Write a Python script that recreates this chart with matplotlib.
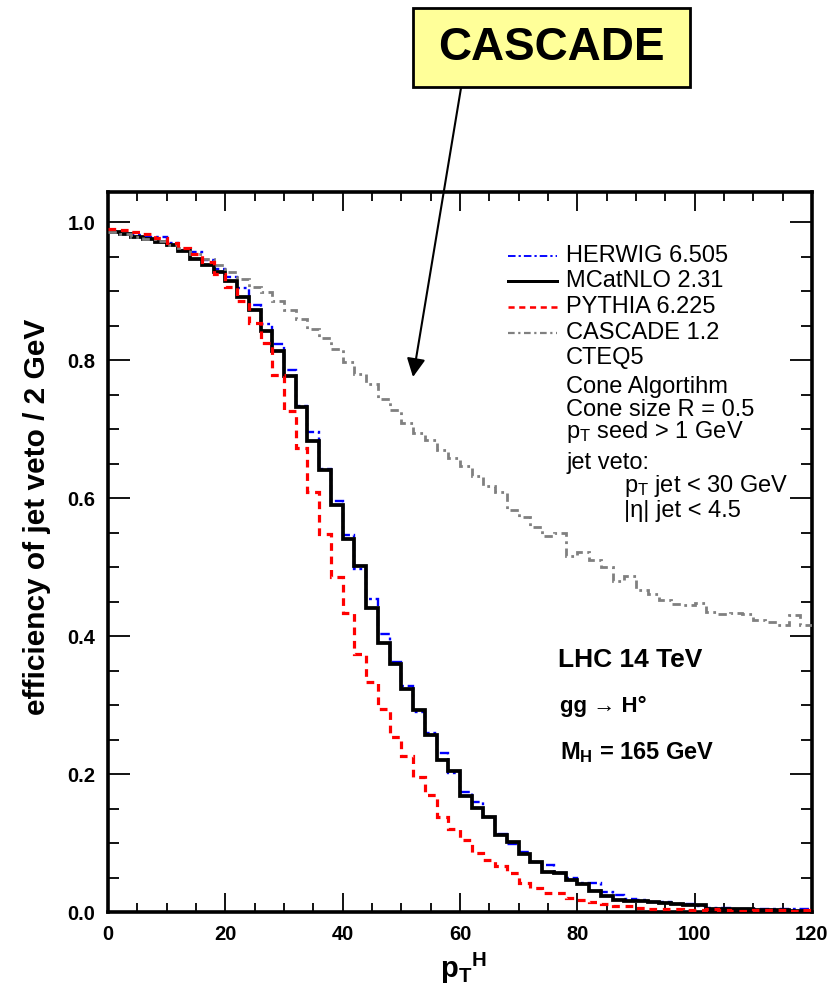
import numpy as np
import matplotlib
matplotlib.use("Agg")
import matplotlib.pyplot as plt
from matplotlib.ticker import MultipleLocator, FormatStrFormatter
from matplotlib.patches import Rectangle
from matplotlib.lines import Line2D

plt.rcParams['font.family'] = ['Liberation Sans', 'DejaVu Sans']
plt.rcParams['mathtext.fontset'] = 'custom'
plt.rcParams['mathtext.rm'] = 'Liberation Sans'
plt.rcParams['mathtext.bf'] = 'Liberation Sans:bold'
plt.rcParams['mathtext.it'] = 'Liberation Sans:italic'

# ---------------- data (2 GeV bins, 0..120 GeV) ----------------
bin_edges = np.arange(0, 122, 2)

mcatnlo = [0.985, 0.982, 0.979, 0.976, 0.971, 0.966, 0.958, 0.947, 0.938, 0.927,
           0.914, 0.892, 0.873, 0.842, 0.813, 0.777, 0.732, 0.683, 0.641, 0.590,
           0.540, 0.501, 0.440, 0.390, 0.359, 0.323, 0.293, 0.257, 0.220, 0.204,
           0.168, 0.151, 0.137, 0.111, 0.101, 0.084, 0.073, 0.058, 0.056, 0.047,
           0.041, 0.031, 0.023, 0.018, 0.016, 0.016, 0.014, 0.013, 0.011, 0.010,
           0.010, 0.005, 0.005, 0.004, 0.004, 0.003, 0.003, 0.003, 0.002, 0.002]

herwig = [0.986, 0.983, 0.981, 0.978, 0.978, 0.970, 0.960, 0.956, 0.945, 0.932,
          0.920, 0.904, 0.880, 0.852, 0.823, 0.785, 0.733, 0.695, 0.642, 0.596,
          0.546, 0.497, 0.453, 0.403, 0.362, 0.328, 0.290, 0.259, 0.230, 0.201,
          0.174, 0.160, 0.137, 0.113, 0.099, 0.087, 0.073, 0.068, 0.057, 0.049,
          0.042, 0.042, 0.029, 0.025, 0.019, 0.017, 0.015, 0.014, 0.012, 0.011,
          0.008, 0.006, 0.006, 0.005, 0.005, 0.005, 0.004, 0.005, 0.004, 0.004]

pythia = [0.990, 0.989, 0.986, 0.982, 0.977, 0.970, 0.962, 0.953, 0.942, 0.925,
          0.906, 0.886, 0.853, 0.824, 0.779, 0.726, 0.672, 0.609, 0.548, 0.485,
          0.433, 0.374, 0.333, 0.294, 0.253, 0.226, 0.196, 0.170, 0.137, 0.120,
          0.104, 0.086, 0.075, 0.066, 0.056, 0.042, 0.035, 0.028, 0.027, 0.020,
          0.018, 0.015, 0.011, 0.009, 0.008, 0.006, 0.005, 0.004, 0.004, 0.003,
          0.003, 0.005, 0.003, 0.002, 0.002, 0.003, 0.003, 0.003, 0.002, 0.003]

cascade = [0.985, 0.982, 0.978, 0.975, 0.972, 0.967, 0.962, 0.954, 0.946, 0.937,
           0.928, 0.918, 0.906, 0.899, 0.886, 0.872, 0.860, 0.845, 0.832, 0.816,
           0.797, 0.780, 0.765, 0.744, 0.728, 0.709, 0.694, 0.684, 0.670, 0.658,
           0.647, 0.632, 0.617, 0.609, 0.583, 0.573, 0.558, 0.545, 0.549, 0.516,
           0.522, 0.510, 0.500, 0.479, 0.487, 0.467, 0.461, 0.452, 0.446, 0.445,
           0.448, 0.435, 0.432, 0.433, 0.432, 0.423, 0.421, 0.416, 0.430, 0.416]

series_labels = ["HERWIG 6.505", "MCatNLO 2.31", "PYTHIA 6.225", "CASCADE 1.2"]
x_ticks = [0, 20, 40, 60, 80, 100, 120]
y_ticks = [0.0, 0.2, 0.4, 0.6, 0.8, 1.0]

# ---------------- styles ----------------
styles = {
    "HERWIG 6.505": dict(color='#0000FF', lw=1.7, ls=(0, (4, 1.6, 1.2, 1.6)), z=2),
    "MCatNLO 2.31": dict(color='black', lw=2.7, ls='-', z=3),
    "PYTHIA 6.225": dict(color='#FF0000', lw=2.3, ls=(0, (2.4, 1.8)), z=5),
    "CASCADE 1.2": dict(color='#808080', lw=2.0, ls=(0, (3, 1.6, 1, 1.6)), z=4),
}
data = {"HERWIG 6.505": herwig, "MCatNLO 2.31": mcatnlo,
        "PYTHIA 6.225": pythia, "CASCADE 1.2": cascade}

W, H = 832, 996
fig = plt.figure(figsize=(W / 100, H / 100), dpi=100)
ax = fig.add_axes([108 / W, 84 / H, 704 / W, 720 / H])

def fx(px):
    return px / W

def fy(py):
    return 1 - py / H

for name in series_labels:
    st = styles[name]
    ax.stairs(data[name], bin_edges, baseline=None, color=st['color'],
              linewidth=st['lw'], linestyle=st['ls'], zorder=st['z'])

ax.set_xlim(0, 120)
ax.set_ylim(0, 1.0435)
ax.set_xticks(x_ticks)
ax.set_yticks(y_ticks)
ax.xaxis.set_minor_locator(MultipleLocator(5))
ax.yaxis.set_minor_locator(MultipleLocator(0.05))
ax.yaxis.set_major_formatter(FormatStrFormatter('%.1f'))
ax.tick_params(which='both', direction='in', top=True, right=True, width=1.3)
ax.tick_params(axis='x', which='major', length=14, pad=9)
ax.tick_params(axis='x', which='minor', length=6.5)
ax.tick_params(axis='y', which='major', length=16, pad=9)
ax.tick_params(axis='y', which='minor', length=8)
for lab in ax.get_xticklabels() + ax.get_yticklabels():
    lab.set_fontsize(14.5)
    lab.set_fontweight('bold')
for sp in ax.spines.values():
    sp.set_linewidth(2.6)

# axis labels
fig.text(fx(37), fy(517), 'efficiency of jet veto / 2 GeV', rotation=90,
         fontsize=21.5, fontweight='bold', ha='center', va='center')
fig.text(fx(463), fy(968), r'$\mathbf{p}_\mathbf{T}{}^\mathbf{H}$',
         fontsize=21, ha='center', va='center')

# manual legend
leg_rows_y = [256, 281, 307, 333]
for name, yy in zip(series_labels, leg_rows_y):
    st = styles[name]
    fig.add_artist(Line2D([fx(508), fx(557)], [fy(yy), fy(yy)], color=st['color'],
                          linewidth=st['lw'] * 0.8, linestyle=st['ls']))
    fig.text(fx(566), fy(yy), name, fontsize=17, ha='left', va='center')

info_lines = [("CTEQ5", 566, 358), ("Cone Algortihm", 566, 387),
              ("Cone size R = 0.5", 566, 410),
              (r"p$_\mathregular{T}$ seed > 1 GeV", 566, 432),
              ("jet veto:", 566, 463),
              (r"p$_\mathregular{T}$ jet < 30 GeV", 624, 486),
              ("|η| jet < 4.5", 624, 511)]
for txt, xx, yy in info_lines:
    fig.text(fx(xx), fy(yy), txt, fontsize=17, ha='left', va='center')

fig.text(fx(558), fy(660), 'LHC 14 TeV', fontsize=19, fontweight='bold',
         ha='left', va='center')
fig.text(fx(560), fy(706), 'gg → H°', fontsize=16, fontweight='bold',
         ha='left', va='center')
fig.text(fx(560), fy(753), r'M$_\mathbf{H}$ = 165 GeV', fontsize=17,
         fontweight='bold', ha='left', va='center')

# CASCADE callout box
fig.add_artist(Rectangle((fx(413), fy(87)), (690 - 413) / W, (87 - 8) / H,
                         transform=fig.transFigure, facecolor='#FFFF99',
                         edgecolor='black', linewidth=2))
fig.text(fx(551), fy(48), 'CASCADE', fontsize=33, fontweight='bold',
         ha='center', va='center')
ax.annotate('', xy=(fx(413), fy(377)), xytext=(fx(461), fy(88)),
            xycoords='figure fraction', textcoords='figure fraction',
            arrowprops=dict(arrowstyle='-|>', lw=1.5, color='black',
                            mutation_scale=28, shrinkA=0, shrinkB=0))

fig.savefig('out.png', dpi=100)
